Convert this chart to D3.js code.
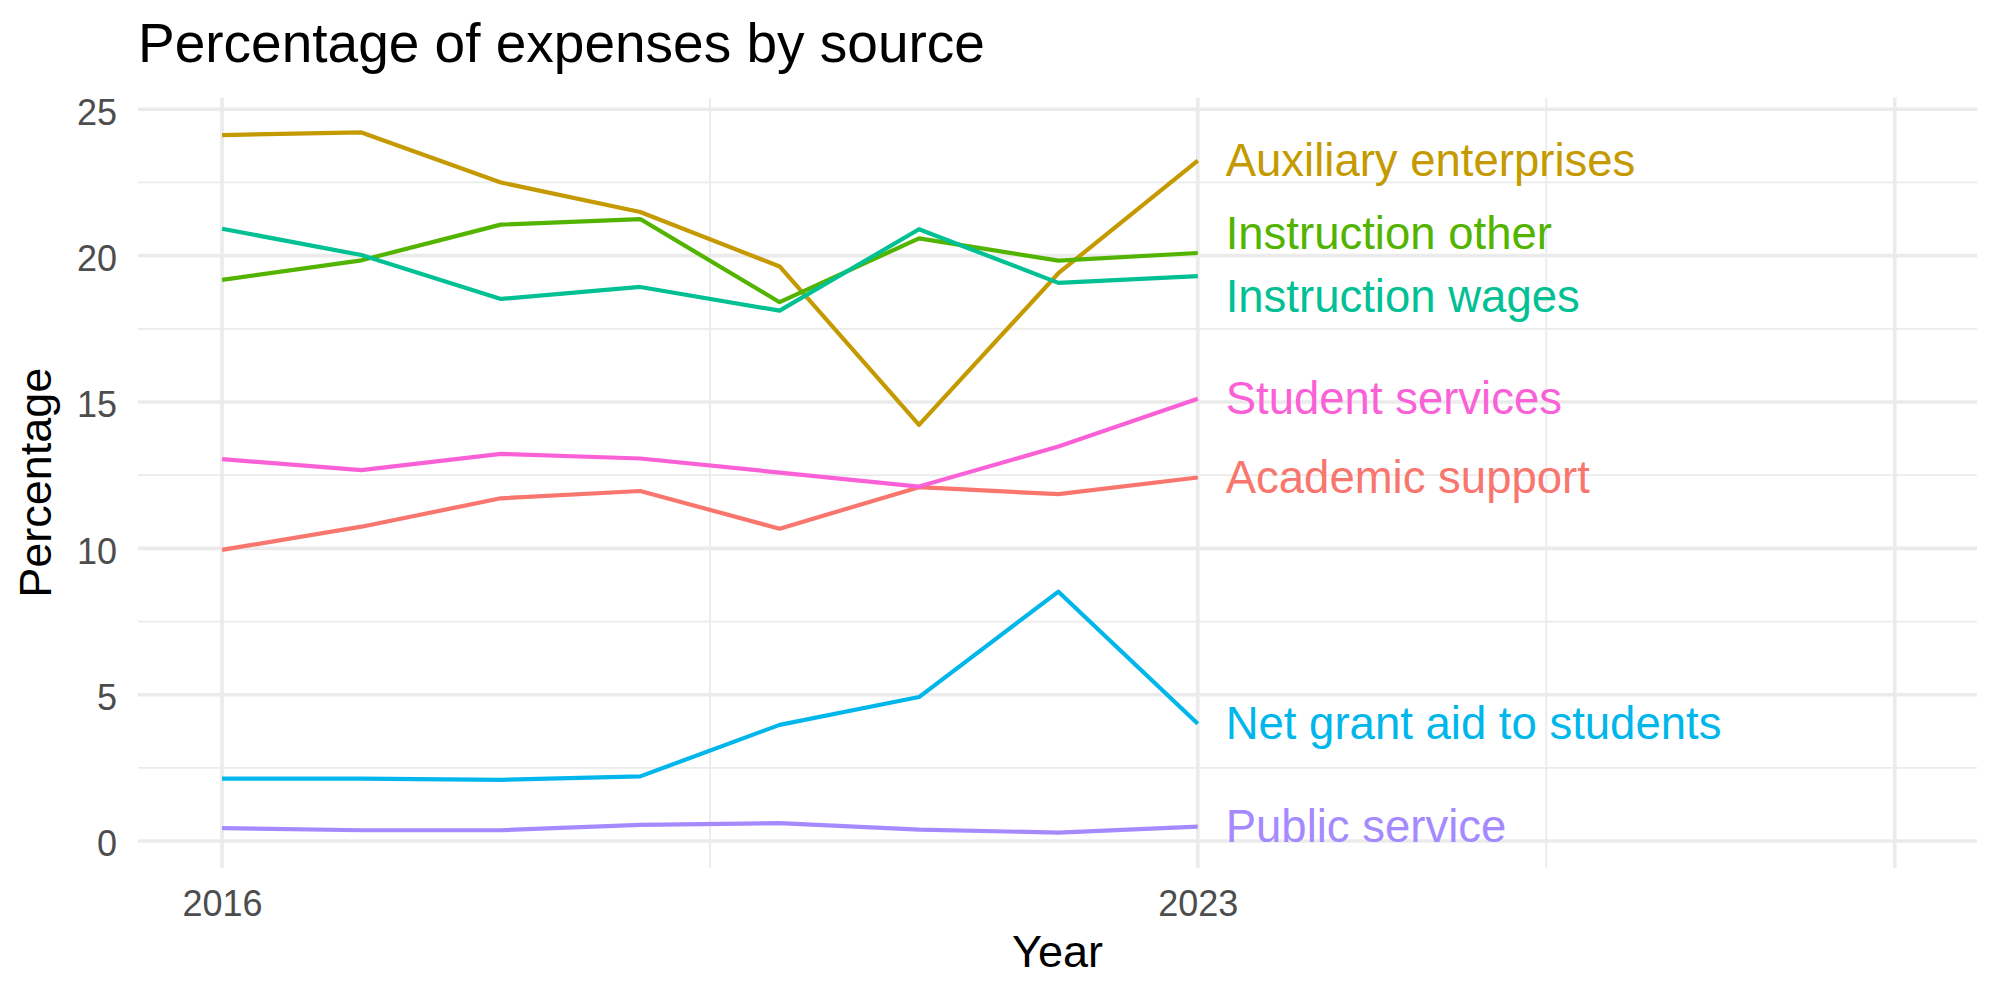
<!DOCTYPE html>
<html>
<head>
<meta charset="utf-8">
<script src="https://cdn.jsdelivr.net/npm/d3@7"></script>
<style>
  body { margin: 0; background: white; }
  text { font-family: "Liberation Sans", Arial, sans-serif; }
</style>
</head>
<body>
<div id="chart"></div>
<script>
//=====================================================
var years = [2016, 2017, 2018, 2019, 2020, 2021, 2022, 2023];

var sources = ["Academic support", "Auxiliary enterprises", "Instruction other", "Instruction wages",
               "Net grant aid to students", "Public service", "Student services"];

var academicSupport = [9.95, 10.74, 11.71, 11.96, 10.67, 12.09, 11.85, 12.42];
var auxiliaryEnterprises = [24.12, 24.21, 22.50, 21.49, 19.63, 14.22, 19.40, 23.25];
var instructionOther = [19.17, 19.84, 21.06, 21.25, 18.41, 20.59, 19.83, 20.09];
var instructionWages = [20.92, 20.02, 18.52, 18.93, 18.12, 20.90, 19.07, 19.30];
var netGrantAid = [2.13, 2.13, 2.09, 2.21, 3.97, 4.92, 8.52, 4.01];
var publicService = [0.44, 0.37, 0.37, 0.55, 0.61, 0.39, 0.29, 0.49];
var studentServices = [13.05, 12.67, 13.23, 13.07, 12.59, 12.11, 13.48, 15.11];

// where the end labels sit (repelled apart where lines end close together)
var labelY = [12.42, 23.25, 20.78, 18.61, 4.01, 0.49, 15.11];

var yTicks = [0, 5, 10, 15, 20, 25];
var yMinor = [2.5, 7.5, 12.5, 17.5, 22.5];
var xMajor = [2016, 2023, 2028];
var xMinor = [2019.5, 2025.5];
var xLabels = [2016, 2023];

var colors = ["#F8766D", "#C49A00", "#53B400", "#00C094", "#00B6EB", "#A58AFF", "#FB61D7"];

//=====================================================
function buildChart(divSelector) {

var width = 2000, height = 1000;

var series = [academicSupport, auxiliaryEnterprises, instructionOther, instructionWages,
              netGrantAid, publicService, studentServices];

var data = sources.map(function(s, i) {
  return { name: s, color: colors[i], labelY: labelY[i],
           values: years.map(function(y, j) { return { year: y, value: series[i][j] }; }) };
});

var svg = d3.select(divSelector).append("svg")
  .attr("width", width)
  .attr("height", height);

var x = d3.scaleLinear().domain([2015.397, 2028.59]).range([138, 1977]);
var y = d3.scaleLinear().domain([-0.91, 25.396]).range([867.7, 97.7]);

var grid = svg.append("g");

// minor grid
grid.selectAll("line.ymin").data(yMinor).enter().append("line")
  .attr("x1", x.range()[0]).attr("x2", x.range()[1])
  .attr("y1", function(d) { return y(d); }).attr("y2", function(d) { return y(d); })
  .attr("stroke", "#EBEBEB").attr("stroke-width", 1.8);
grid.selectAll("line.xmin").data(xMinor).enter().append("line")
  .attr("y1", y.range()[0]).attr("y2", y.range()[1])
  .attr("x1", function(d) { return x(d); }).attr("x2", function(d) { return x(d); })
  .attr("stroke", "#EBEBEB").attr("stroke-width", 1.8);

// major grid
grid.selectAll("line.ymaj").data(yTicks).enter().append("line")
  .attr("x1", x.range()[0]).attr("x2", x.range()[1])
  .attr("y1", function(d) { return y(d); }).attr("y2", function(d) { return y(d); })
  .attr("stroke", "#EBEBEB").attr("stroke-width", 3.6);
grid.selectAll("line.xmaj").data(xMajor).enter().append("line")
  .attr("y1", y.range()[0]).attr("y2", y.range()[1])
  .attr("x1", function(d) { return x(d); }).attr("x2", function(d) { return x(d); })
  .attr("stroke", "#EBEBEB").attr("stroke-width", 3.6);

// axes (text only, theme_minimal style)
var yAxis = svg.append("g")
  .attr("transform", "translate(" + x.range()[0] + ",0)")
  .call(d3.axisLeft(y).tickValues(yTicks).tickSize(0).tickPadding(21));
yAxis.select(".domain").remove();
yAxis.selectAll("text")
  .attr("font-size", 36).attr("fill", "#4D4D4D")
  .attr("font-family", "Liberation Sans, Arial, sans-serif")
  .attr("dy", "0.41em");

var xAxis = svg.append("g")
  .attr("transform", "translate(0," + y.range()[0] + ")")
  .call(d3.axisBottom(x).tickValues(xLabels).tickFormat(d3.format("d")).tickSize(0).tickPadding(0));
xAxis.select(".domain").remove();
xAxis.selectAll("text")
  .attr("font-size", 36).attr("fill", "#4D4D4D")
  .attr("font-family", "Liberation Sans, Arial, sans-serif")
  .attr("y", 48).attr("dy", 0);

// lines
var line = d3.line()
  .x(function(d) { return x(d.year); })
  .y(function(d) { return y(d.value); });

svg.append("g").selectAll("path").data(data).enter().append("path")
  .attr("d", function(d) { return line(d.values); })
  .attr("fill", "none")
  .attr("stroke", function(d) { return d.color; })
  .attr("stroke-width", 4.2)
  .attr("stroke-linejoin", "round");

// end labels
svg.append("g").selectAll("text").data(data).enter().append("text")
  .attr("x", x(years[years.length - 1] + 0.2))
  .attr("y", function(d) { return y(d.labelY); })
  .attr("dy", "0.345em")
  .attr("font-size", 45.5)
  .attr("fill", function(d) { return d.color; })
  .text(function(d) { return d.name; });

// titles
svg.append("text")
  .attr("x", 138).attr("y", 62)
  .attr("font-size", 55)
  .text("Percentage of expenses by source");

svg.append("text")
  .attr("x", (x.range()[0] + x.range()[1]) / 2).attr("y", 967)
  .attr("text-anchor", "middle")
  .attr("font-size", 45)
  .text("Year");

svg.append("text")
  .attr("transform", "translate(51," + (y.range()[0] + y.range()[1]) / 2 + ") rotate(-90)")
  .attr("text-anchor", "middle")
  .attr("font-size", 45)
  .text("Percentage");
}

buildChart("#chart");
</script>
</body>
</html>
